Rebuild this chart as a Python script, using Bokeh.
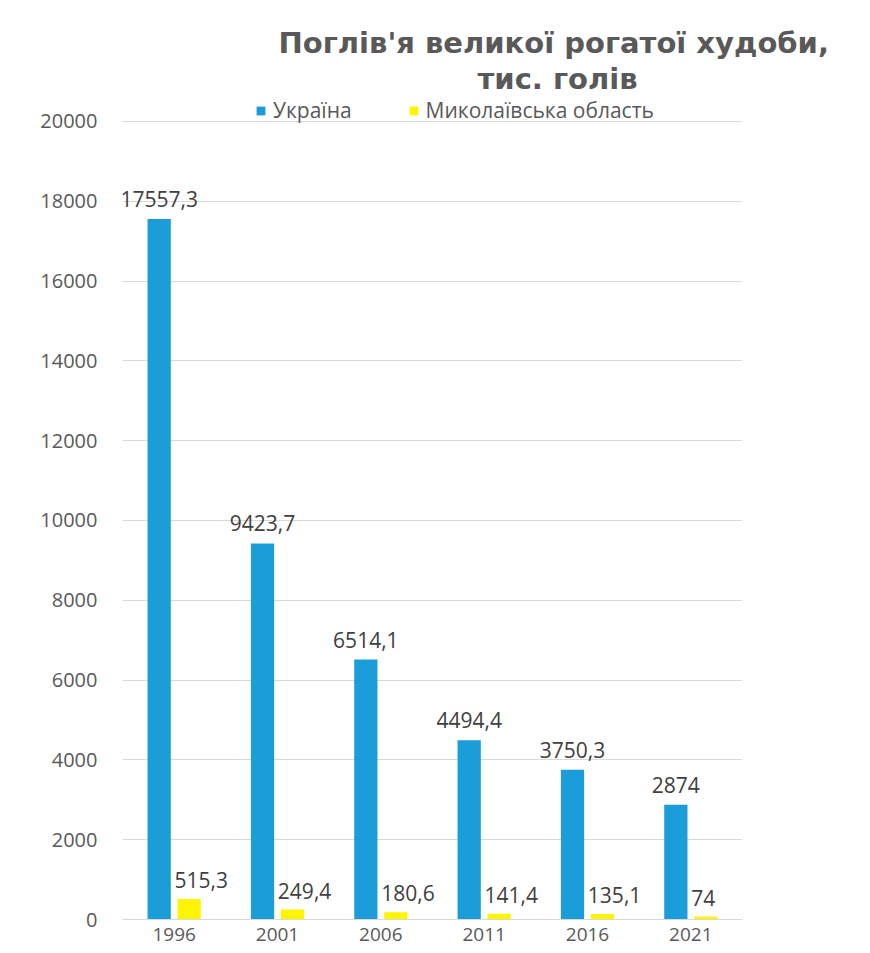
from bokeh.plotting import figure
from bokeh.models import ColumnDataSource, Range1d, Title, Legend, LegendItem, FixedTicker
from bokeh.transform import dodge
from bokeh.core.properties import value
from bokeh.embed import file_html
from bokeh.resources import INLINE

years = ["1996", "2001", "2006", "2011", "2016", "2021"]
ukraine = [17557.3, 9423.7, 6514.1, 4494.4, 3750.3, 2874]
mykolaiv = [515.3, 249.4, 180.6, 141.4, 135.1, 74]
y_ticks = [0, 2000, 4000, 6000, 8000, 10000, 12000, 14000, 16000, 18000, 20000]
series_names = ["Україна", "Миколаївська область"]
title_lines = ["Поглів'я великої рогатої худоби,", "тис. голів"]


def fmt(v):
    return ("%g" % v).replace(".", ",")


src = ColumnDataSource(dict(
    years=years,
    ukraine=ukraine,
    mykolaiv=mykolaiv,
    ulab=[fmt(v) for v in ukraine],
    mlab=[fmt(v) for v in mykolaiv],
))

FONT = "Open Sans"
TITLE_FONT = "DejaVu Sans"
BLUE = "#1A9DD9"
YELLOW = "#FFF500"

# frame extends a little above the 20000 gridline so that the legend sits inside it
p = figure(x_range=years, y_range=Range1d(0, 20650),
           frame_width=620, frame_height=824,
           min_border_left=122, min_border_right=118, min_border_top=95, min_border_bottom=30,
           output_backend="svg", toolbar_location=None, title=None)
p.outline_line_color = None
p.background_fill_color = "white"
p.border_fill_color = "white"

r1 = p.vbar(x=dodge("years", -0.145, range=p.x_range), top="ukraine", width=0.225,
            source=src, fill_color=BLUE, line_color=None)
r2 = p.vbar(x=dodge("years", 0.145, range=p.x_range), top="mykolaiv", width=0.225,
            source=src, fill_color=YELLOW, line_color=None)

p.text(x=dodge("years", -0.145, range=p.x_range), y="ukraine", text="ulab", source=src,
       text_align="center", text_baseline="bottom", y_offset=-12,
       text_font=value(FONT), text_font_size="21px", text_color="#404040")
p.text(x=dodge("years", 0.145 - 0.1125, range=p.x_range), y="mykolaiv", text="mlab", source=src,
       text_align="left", text_baseline="bottom", y_offset=-11, x_offset=-3,
       text_font=value(FONT), text_font_size="21px", text_color="#404040")

p.xgrid.grid_line_color = None
p.ygrid.grid_line_color = "#d9d9d9"
p.ygrid.grid_line_width = 1
p.yaxis.ticker = FixedTicker(ticks=y_ticks)

p.yaxis.axis_line_color = None
p.yaxis.major_tick_line_color = None
p.yaxis.minor_tick_line_color = None
p.yaxis.major_tick_in = 0
p.yaxis.major_tick_out = 0
p.yaxis.major_label_standoff = 25
p.yaxis.major_label_text_font = FONT
p.yaxis.major_label_text_font_size = "20px"
p.yaxis.major_label_text_color = "#595959"

p.xaxis.axis_line_color = "#d9d9d9"
p.xaxis.major_tick_line_color = None
p.xaxis.minor_tick_line_color = None
p.xaxis.major_tick_in = 0
p.xaxis.major_tick_out = 0
p.xaxis.major_label_standoff = 8
p.xaxis.major_label_text_font = FONT
p.xaxis.major_label_text_font_size = "19px"
p.xaxis.major_label_text_color = "#595959"

legend = Legend(items=[LegendItem(label=series_names[0], renderers=[r1]),
                       LegendItem(label=series_names[1], renderers=[r2])],
                orientation="horizontal", location=(133, 795),
                glyph_width=11, glyph_height=11, label_standoff=7, spacing=56,
                padding=0, margin=0, border_line_color=None, background_fill_alpha=0,
                label_text_font=FONT, label_text_font_size="21px", label_text_color="#595959")
p.add_layout(legend, "center")

t2 = Title(text=title_lines[1], align="left", offset=355, standoff=0,
           text_font=TITLE_FONT, text_font_size="29px", text_font_style="bold", text_color="#595959")
t1 = Title(text=title_lines[0], align="left", offset=156, standoff=0,
           text_font=TITLE_FONT, text_font_size="29px", text_font_style="bold", text_color="#595959")
p.add_layout(t2, "above")
p.add_layout(t1, "above")

open("out.html", "w").write(file_html(p, INLINE))
